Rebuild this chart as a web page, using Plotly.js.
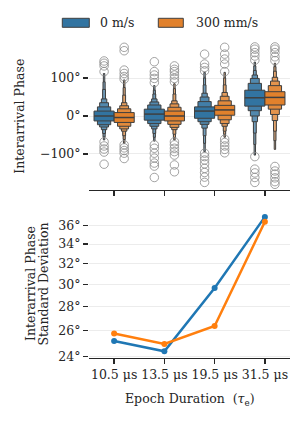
<!DOCTYPE html>
<html><head><meta charset="utf-8">
<script src="https://cdn.plot.ly/plotly-3.0.1.min.js"></script>
<style>html,body{margin:0;padding:0;background:#fff}#chart{width:303px;height:422px}</style>
</head><body><div id="chart"></div>
<script>
// ---------- data ----------
const categories = ['10.5 μs', '13.5 μs', '19.5 μs', '31.5 μs'];
const hueNames = ['0 m/s', '300 mm/s'];

// letter-value boxen statistics (degrees), innermost level first
const median0   = [0, 5, 13, 48];
const median300 = [-4, 0, 16, 49];
const upper0 = [
  [13, 24, 35, 45, 70, 90, 112],
  [18, 29, 37, 45, 58, 68, 80],
  [24, 38, 50, 60, 82, 100, 115],
  [68, 86, 99, 108, 120, 132, 142]
];
const lower0 = [
  [-13, -23, -29, -36, -46, -55, -63],
  [-11, -20, -27, -34, -46, -56, -66],
  [-6, -15, -22, -32, -52, -72, -94],
  [26, 14, 0, -15, -45, -75, -103]
];
const upper300 = [
  [9, 19, 27, 35, 55, 75, 95],
  [13, 23, 32, 40, 58, 72, 85],
  [28, 40, 52, 62, 82, 100, 115],
  [64, 80, 92, 102, 118, 130, 139]
];
const lower300 = [
  [-17, -27, -34, -40, -52, -62, -72],
  [-13, -22, -30, -36, -48, -57, -63],
  [2, -10, -20, -27, -40, -48, -56],
  [29, 18, 4, -12, -40, -65, -88]
];
const outliers0 = [
  [145, 139, 132, 117, -68, -79, -87, -95, -127],
  [143, 117, 108, 99, 88, -76, -85, -98, -111, -124, -132, -162],
  [163, 137, 128, 119, -98, -107, -116, -126, -138, -149, -161, -175],
  [182, 176, 167, 158, 147, -107, -140, -150, -162, -175]
];
const outliers300 = [
  [181, 172, 121, 112, 104, 97, -76, -84, -91, -98, -112],
  [132, 123, 117, 108, 99, 90, -68, -76, -85, -94, -103, -129, -147],
  [181, 163, 150, 137, 117, -61, -70, -79, -88, -97],
  [182, 176, 167, 156, 146, -133, -145, -153, -163, -173, -180]
];

// standard deviation of interarrival phase (degrees)
const stdDev0   = [25.17, 24.37, 29.66, 37.0];
const stdDev300 = [25.75, 24.94, 26.37, 36.45];

const yTicksTop = [-100, 0, 100];
const yTickTextTop = ['−100°', '0°', '100°'];
const yTicksBottom = [24, 26, 28, 30, 32, 34, 36];

// ---------- styling ----------
const boxColors = ['#3274a1', '#e1812c'];
const lineColors = ['#1f77b4', '#ff7f0e'];
const edge = '#3f3f3f';
const hueOffsets = [-0.2, 0.2];
const boxWidth = 0.4;
const widthFactors = [1, 0.66, 0.44, 0.27, 0.14, 0.1, 0.07];
const FONT = 'DejaVu Serif, Liberation Serif, serif';
const FS = 12.5;
const TXT = '#262626';

function hexToRgb(h){return [1,3,5].map(i=>parseInt(h.slice(i,i+2),16));}
function lighten(h, t){
  const c = hexToRgb(h);
  const light = [240, 240, 240];
  return 'rgb(' + c.map((v,i)=>Math.round(v*t + light[i]*(1-t))).join(',') + ')';
}

const stats = [
  {med: median0, up: upper0, lo: lower0, out: outliers0},
  {med: median300, up: upper300, lo: lower300, out: outliers300}
];

const traces = [];
const nLev = widthFactors.length;
for (let k = nLev - 1; k >= 0; k--) {
  stats.forEach((s, h) => {
    const w = boxWidth * widthFactors[k];
    const t = 1 - 0.5 * k / (nLev - 1);
    traces.push({
      type: 'bar', xaxis: 'x', yaxis: 'y',
      x: categories.map((c, i) => i + hueOffsets[h]),
      base: categories.map((c, i) => s.lo[i][k]),
      y: categories.map((c, i) => s.up[i][k] - s.lo[i][k]),
      width: w, offset: -w / 2,
      marker: {color: lighten(boxColors[h], t), line: {color: edge, width: 1}},
      showlegend: false, hoverinfo: 'skip'
    });
  });
}
stats.forEach((s, h) => {
  const xs = [], ys = [];
  categories.forEach((c, i) => {
    const cx = i + hueOffsets[h];
    xs.push(cx - boxWidth / 2, cx + boxWidth / 2, null);
    ys.push(s.med[i], s.med[i], null);
  });
  traces.push({type: 'scatter', mode: 'lines', xaxis: 'x', yaxis: 'y',
    x: xs, y: ys, line: {color: edge, width: 1.5}, showlegend: false, hoverinfo: 'skip'});
});
stats.forEach((s, h) => {
  const xs = [], ys = [];
  categories.forEach((c, i) => {
    s.out[i].forEach(v => { xs.push(i + hueOffsets[h]); ys.push(v); });
  });
  traces.push({type: 'scatter', mode: 'markers', xaxis: 'x', yaxis: 'y',
    x: xs, y: ys,
    marker: {symbol: 'circle-open', size: 8.5, color: '#8a8a8a', line: {width: 0.8, color: '#8a8a8a'}},
    showlegend: false, hoverinfo: 'skip'});
});
[stdDev0, stdDev300].forEach((sd, h) => {
  traces.push({type: 'scatter', mode: 'lines+markers', xaxis: 'x2', yaxis: 'y2',
    x: categories, y: sd, name: hueNames[h],
    line: {color: lineColors[h], width: 2.5},
    marker: {color: lineColors[h], size: 6},
    showlegend: false});
});

// ---------- layout ----------
const L = 89, R = 13, T = 42, B = 64, W = 303, H = 422;
const pw = W - L - R, ph = H - T - B;
const px = x => (x - L) / pw;
const py = y => (H - B - y) / ph;

const axisCommon = {
  ticks: 'outside', ticklen: 5, tickwidth: 1.3, tickcolor: TXT,
  tickfont: {family: FONT, size: FS, color: TXT},
  zeroline: false
};

const layout = {
  width: W, height: H,
  margin: {l: L, r: R, t: T, b: B, pad: 0},
  paper_bgcolor: '#fff', plot_bgcolor: '#fff',
  barmode: 'overlay', bargap: 0,
  showlegend: false,
  font: {family: FONT, size: FS, color: TXT},
  xaxis: Object.assign({}, axisCommon, {
    anchor: 'y', domain: [0, 1], type: 'linear', range: [-0.5, 3.5],
    tickvals: [0, 1, 2, 3], showticklabels: false,
    showline: true, linecolor: TXT, linewidth: 1.3, showgrid: false
  }),
  yaxis: Object.assign({}, axisCommon, {
    anchor: 'x', domain: [py(190), 1], range: [-195, 195],
    tickvals: yTicksTop, ticktext: yTickTextTop,
    showline: false, showgrid: true, gridcolor: '#ececec', gridwidth: 1
  }),
  xaxis2: Object.assign({}, axisCommon, {
    anchor: 'y2', domain: [0, 1], type: 'category',
    categoryarray: categories, range: [-0.5, 3.5],
    showline: true, linecolor: TXT, linewidth: 1.3, showgrid: false
  }),
  yaxis2: Object.assign({}, axisCommon, {
    anchor: 'x2', domain: [0, py(210)], type: 'log',
    range: [Math.log10(23.87), Math.log10(37.8)],
    tickvals: yTicksBottom, ticktext: yTicksBottom.map(v => v + '°'),
    showline: false, showgrid: true, gridcolor: '#ececec', gridwidth: 1
  }),
  shapes: [
    {type: 'rect', xref: 'paper', yref: 'paper', x0: px(62.3), x1: px(89.3), y0: py(27.3), y1: py(18.3),
     fillcolor: boxColors[0], line: {color: edge, width: 1}},
    {type: 'rect', xref: 'paper', yref: 'paper', x0: px(158.3), x1: px(183.3), y0: py(27.3), y1: py(18.3),
     fillcolor: boxColors[1], line: {color: edge, width: 1}}
  ],
  annotations: [
    {text: hueNames[0], xref: 'paper', yref: 'paper', x: px(97.5), y: py(22.8), xanchor: 'left', yanchor: 'middle', showarrow: false, font: {family: FONT, size: FS, color: TXT}},
    {text: hueNames[1], xref: 'paper', yref: 'paper', x: px(193.5), y: py(22.8), xanchor: 'left', yanchor: 'middle', showarrow: false, font: {family: FONT, size: FS, color: TXT}},
    {text: 'Interarrival Phase', textangle: -90, xref: 'paper', yref: 'paper', x: px(18.7), y: py(116), xanchor: 'center', yanchor: 'middle', showarrow: false, font: {family: FONT, size: FS, color: TXT}},
    {text: 'Interarrival Phase', textangle: -90, xref: 'paper', yref: 'paper', x: px(30), y: py(284), xanchor: 'center', yanchor: 'middle', showarrow: false, font: {family: FONT, size: FS, color: TXT}},
    {text: 'Standard Deviation', textangle: -90, xref: 'paper', yref: 'paper', x: px(42.5), y: py(284), xanchor: 'center', yanchor: 'middle', showarrow: false, font: {family: FONT, size: FS, color: TXT}},
    {text: 'Epoch Duration  (<i>τ</i><sub>e</sub>)', xref: 'paper', yref: 'paper', x: px(189.5), y: py(399), xanchor: 'center', yanchor: 'middle', showarrow: false, font: {family: FONT, size: FS, color: TXT}}
  ]
};

Plotly.newPlot('chart', traces, layout, {displayModeBar: false, staticPlot: true});
</script>
</body></html>
